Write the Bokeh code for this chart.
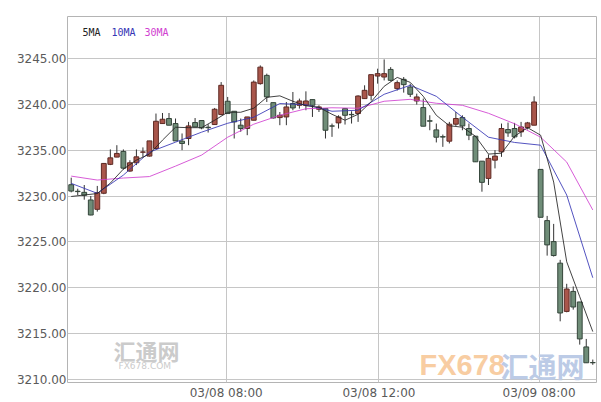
import numpy as np
from bokeh.plotting import figure
from bokeh.models import FixedTicker, Label, Range1d, PrintfTickFormatter, ColumnDataSource
from bokeh.embed import file_html
from bokeh.resources import INLINE

# ---- candle data ----
opens = [3231.23, 3230.52, 3230.40, 3229.57, 3228.55, 3230.30, 3233.45, 3234.24, 3234.86, 3232.72,
         3233.62, 3234.78, 3234.35, 3235.18, 3237.90, 3238.45, 3237.90, 3235.98, 3236.27, 3238.01,
         3238.23, 3237.50, 3237.79, 3238.88, 3240.33, 3239.24, 3237.72, 3237.36, 3238.26, 3242.25,
         3243.15, 3240.18, 3238.55, 3238.62, 3240.08, 3239.89, 3239.89, 3240.51, 3239.46, 3239.53,
         3237.64, 3237.97, 3239.53, 3238.90, 3238.99, 3240.62, 3240.98, 3243.08, 3242.97, 3243.80,
         3241.71, 3242.72, 3241.88, 3240.36, 3239.64, 3238.20, 3237.21, 3236.47, 3235.98, 3237.83,
         3238.55, 3237.36, 3236.52, 3233.80, 3231.92, 3233.91, 3234.82, 3237.25, 3237.36, 3236.99,
         3237.47, 3237.72, 3232.90, 3227.32, 3225.03, 3222.68, 3217.42, 3219.60, 3218.45, 3213.55,
         3211.85]
highs = [3232.00, 3230.80, 3231.20, 3230.00, 3231.10, 3233.60, 3235.08, 3235.54, 3235.08, 3233.90,
         3235.08, 3235.30, 3236.01, 3238.99, 3239.05, 3239.05, 3238.45, 3236.82, 3238.08, 3238.50,
         3238.23, 3237.83, 3239.60, 3242.42, 3240.80, 3239.24, 3238.45, 3238.62, 3242.60, 3244.24,
         3243.34, 3240.18, 3239.16, 3240.25, 3241.34, 3240.62, 3241.41, 3240.51, 3239.89, 3239.53,
         3237.90, 3238.80, 3239.60, 3239.24, 3240.98, 3242.07, 3243.23, 3243.88, 3244.89, 3244.05,
         3242.60, 3242.97, 3242.25, 3241.16, 3240.62, 3238.80, 3237.90, 3236.70, 3238.08, 3239.16,
         3238.80, 3237.90, 3236.52, 3233.80, 3234.53, 3235.00, 3237.90, 3238.01, 3237.97, 3238.08,
         3238.08, 3240.87, 3232.90, 3227.83, 3226.96, 3223.04, 3220.43, 3220.14, 3218.45, 3214.42,
         3212.17]
lows = [3230.40, 3230.10, 3229.60, 3227.90, 3228.30, 3230.20, 3233.37, 3234.24, 3232.90, 3232.64,
        3233.37, 3234.27, 3234.30, 3235.08, 3237.90, 3237.72, 3236.00, 3235.00, 3235.54, 3237.53,
        3237.28, 3236.92, 3237.79, 3238.80, 3238.99, 3236.27, 3237.00, 3236.63, 3238.26, 3242.14,
        3240.25, 3238.45, 3237.72, 3237.72, 3239.35, 3239.53, 3239.35, 3238.62, 3239.16, 3236.27,
        3236.45, 3237.36, 3237.79, 3237.90, 3238.08, 3240.62, 3240.43, 3242.25, 3242.60, 3242.50,
        3241.50, 3241.27, 3240.79, 3239.97, 3237.61, 3237.17, 3235.84, 3235.36, 3235.73, 3237.64,
        3237.17, 3236.09, 3233.73, 3230.47, 3231.20, 3233.01, 3234.27, 3236.45, 3236.28, 3236.45,
        3237.26, 3237.72, 3227.68, 3223.50, 3223.40, 3216.34, 3217.32, 3217.61, 3213.80, 3211.82,
        3211.60]
closes = [3230.54, 3230.48, 3230.08, 3227.93, 3230.36, 3233.55, 3234.16, 3234.64, 3233.04, 3233.62,
          3234.27, 3234.80, 3236.01, 3238.15, 3238.37, 3237.72, 3236.01, 3235.73, 3237.64, 3237.53,
          3237.42, 3237.45, 3239.46, 3242.07, 3238.99, 3238.08, 3237.36, 3238.62, 3242.42, 3244.05,
          3240.80, 3238.51, 3238.80, 3239.71, 3239.60, 3240.36, 3240.36, 3239.89, 3239.71, 3237.17,
          3237.62, 3238.62, 3238.80, 3238.86, 3240.90, 3241.52, 3243.23, 3243.34, 3243.34, 3242.61,
          3242.36, 3242.14, 3241.09, 3240.80, 3237.61, 3238.16, 3236.41, 3236.43, 3237.83, 3238.45,
          3237.64, 3236.63, 3233.73, 3231.49, 3234.10, 3234.35, 3237.36, 3236.88, 3236.45, 3237.53,
          3237.97, 3240.25, 3227.68, 3224.67, 3223.51, 3217.25, 3219.86, 3217.90, 3214.42, 3211.82,
          3211.82]

# ---- moving averages ----
ma5_x = list(range(0, 81, 2))
ma5 = [3229.95, 3230.11, 3230.27, 3231.41, 3232.93, 3233.91, 3234.57, 3236.09, 3237.50, 3237.45,
       3237.45, 3238.26, 3239.13, 3239.13, 3239.57, 3240.76, 3240.92, 3240.33, 3239.84, 3239.67,
       3238.91, 3238.26, 3238.91, 3240.27, 3241.96, 3242.93, 3242.39, 3240.87, 3238.80, 3237.66,
       3237.50, 3236.52, 3234.57, 3234.67, 3236.52, 3237.45, 3236.63, 3231.52, 3222.83, 3219.02,
       3215.22]
ma_x = list(range(0, 81, 4))
ma10 = [3231.38, 3230.29, 3232.28, 3234.78, 3235.87, 3236.96, 3237.93, 3238.59, 3240.08, 3239.95,
        3239.24, 3239.35, 3241.09, 3242.07, 3240.87, 3238.59, 3236.41, 3235.84, 3235.54, 3230.11,
        3221.09]
ma30 = [3232.17, 3231.74, 3231.96, 3232.12, 3233.26, 3234.46, 3236.41, 3237.83, 3238.80, 3239.51,
        3239.62, 3239.57, 3240.33, 3240.54, 3240.11, 3239.89, 3239.02, 3237.88, 3236.41, 3233.70,
        3228.48]

# ---- axis ticks ----
x_tick_pos = [23.77, 47.2, 71.76]
x_tick_labels = ["03/08 08:00", "03/08 12:00", "03/09 08:00"]
y_ticks = [3210, 3215, 3220, 3225, 3230, 3235, 3240, 3245]

legend_names = ["5MA", "10MA", "30MA"]
legend_colors = ["#222222", "#3535b5", "#d040d0"]

o = np.array(opens); c = np.array(closes)
up = c >= o
src = ColumnDataSource(dict(
    x=list(range(len(opens))),
    top=np.maximum(o, c), bottom=np.minimum(o, c),
    high=highs, low=lows,
    fill=np.where(up, "#a9564b", "#6f8d78"),
    edge=np.where(up, "#5e2a24", "#34453a"),
))

p = figure(width=600, height=402, output_backend="svg", toolbar_location=None,
           x_range=Range1d(-0.57, 80.57), y_range=Range1d(3209.67, 3249.57),
           min_border_left=67, min_border_right=4, min_border_top=16, min_border_bottom=19)
p.background_fill_color = "white"
p.border_fill_color = "white"
p.outline_line_color = "#b4b4b4"

for ax in (p.xaxis[0], p.yaxis[0]):
    ax.axis_line_color = None
    ax.major_tick_line_color = None
    ax.minor_tick_line_color = None
    ax.major_tick_out = 0
    ax.major_tick_in = 0
    ax.major_label_text_font = "DejaVu Sans"
    ax.major_label_text_font_size = "12px"
    ax.major_label_text_color = "#5a5a5a"

p.yaxis.ticker = FixedTicker(ticks=y_ticks)
p.yaxis.formatter = PrintfTickFormatter(format="%.2f")
p.yaxis.major_label_standoff = 1
p.xaxis.ticker = FixedTicker(ticks=x_tick_pos)
p.xaxis.major_label_overrides = dict(zip(x_tick_pos, x_tick_labels))
p.xaxis.major_label_standoff = 3

p.xgrid.ticker = FixedTicker(ticks=x_tick_pos)
p.ygrid.ticker = FixedTicker(ticks=y_ticks)
p.grid.grid_line_color = "#c6c6c6"
p.grid.grid_line_width = 1

# watermarks
wm = [
    dict(text="汇通网", x=46, y=33, size="22px", color="#cbcbcb", font="Noto Sans CJK SC", style="bold"),
    dict(text="FX678.COM", x=51, y=17, size="9px", color="#cbcbcb", font="DejaVu Sans", style="normal"),
    dict(text="FX678", x=352, y=18, size="29px", color="#f8cda2", font="Liberation Sans", style="bold"),
    dict(text="汇通网", x=433, y=17, size="28px", color="#bccbe6", font="Noto Sans CJK SC", style="bold"),
]
for w in wm:
    p.add_layout(Label(x=w["x"], y=w["y"], x_units="screen", y_units="screen", text=w["text"],
                       text_font_size=w["size"], text_color=w["color"], text_font=w["font"],
                       text_font_style=w["style"], text_baseline="middle", level="underlay"))

p.segment(x0="x", y0="low", x1="x", y1="high", source=src, line_color="#333333", line_width=1)
p.vbar(x="x", width=0.74, top="top", bottom="bottom", source=src,
       fill_color="fill", line_color="edge", line_width=1)

p.line(ma_x, ma30, line_color=legend_colors[2], line_width=1, line_alpha=0.85)
p.line(ma_x, ma10, line_color=legend_colors[1], line_width=1, line_alpha=0.85)
p.line(ma5_x, ma5, line_color=legend_colors[0], line_width=1, line_alpha=0.85)

lx = [15, 44, 77]
for name, col, xx in zip(legend_names, legend_colors, lx):
    p.add_layout(Label(x=xx, y=350, x_units="screen", y_units="screen", text=name,
                       text_font_size="10px", text_color=col, text_font="DejaVu Sans Mono",
                       text_baseline="middle"))

open("out.html", "w").write(file_html(p, INLINE))
